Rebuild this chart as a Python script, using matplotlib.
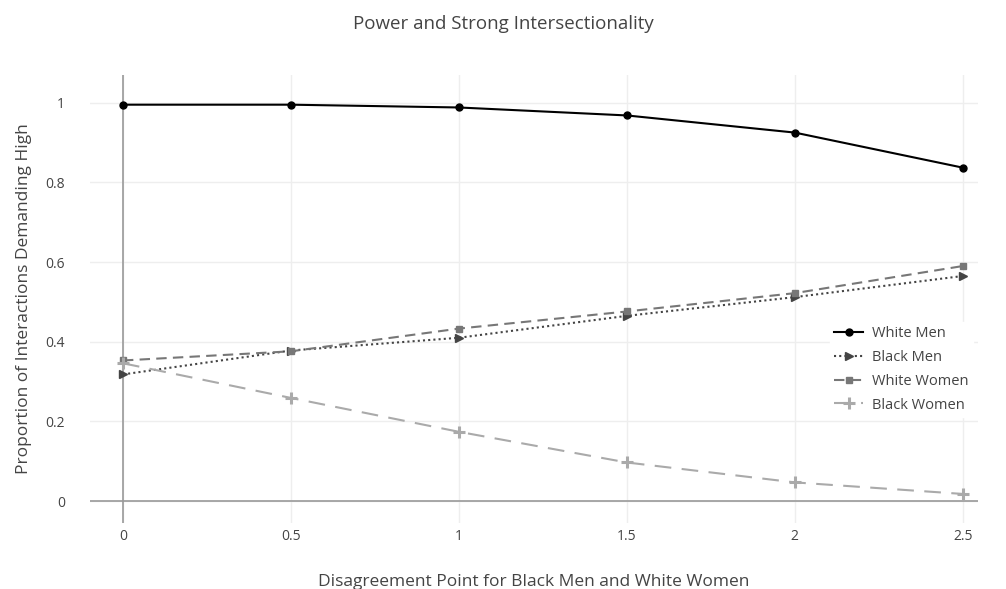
import matplotlib.pyplot as plt
import matplotlib as mpl

mpl.rcParams["font.family"] = ["Open Sans", "DejaVu Sans"]

# data
x_vals = [0, 0.5, 1, 1.5, 2, 2.5]
white_men = [0.995, 0.995, 0.988, 0.968, 0.925, 0.837]
black_men = [0.318, 0.378, 0.410, 0.465, 0.512, 0.565]
white_women = [0.353, 0.376, 0.433, 0.476, 0.522, 0.590]
black_women = [0.346, 0.259, 0.174, 0.097, 0.047, 0.018]

x_ticks = [0, 0.5, 1, 1.5, 2, 2.5]
x_ticklabels = ["0", "0.5", "1", "1.5", "2", "2.5"]
y_ticks = [0, 0.2, 0.4, 0.6, 0.8, 1]
y_ticklabels = ["0", "0.2", "0.4", "0.6", "0.8", "1"]

fig = plt.figure(figsize=(10.06, 5.89), dpi=100)
ax = fig.add_axes([0.0895, 0.112, 0.8825, 0.761])

ax.plot(x_vals, white_men, color="black", lw=1.5, marker="o", ms=5, label="White Men")
ax.plot(x_vals, black_men, color="#444444", lw=1.5, ls=(0, (1, 1.5)), marker=">", ms=6, label="Black Men")
ax.plot(x_vals, white_women, color="#777777", lw=1.5, ls=(0, (5, 3)), marker="s", ms=5, label="White Women")
ax.plot(x_vals, black_women, color="#aaaaaa", lw=1.5, ls=(0, (8, 5)), marker="+", ms=9, mew=2.2, label="Black Women")

ax.set_xlim(-0.098, 2.545)
ax.set_ylim(-0.055, 1.07)
ax.set_xticks(x_ticks)
ax.set_xticklabels(x_ticklabels)
ax.set_yticks(y_ticks)
ax.set_yticklabels(y_ticklabels)
ax.tick_params(axis="x", length=0, labelsize=10, labelcolor="#444444", pad=4)
ax.tick_params(axis="y", length=0, labelsize=10, labelcolor="#444444", pad=18)

ax.grid(True, color="#eeeeee", lw=1)
ax.set_axisbelow(True)
for s in ax.spines.values():
    s.set_visible(False)
ax.axvline(0, color="#999999", lw=1.2, zorder=1)
ax.axhline(0, color="#999999", lw=1.2, zorder=1)

ax.set_xlabel("Disagreement Point for Black Men and White Women", fontsize=12.5, color="#444444", labelpad=22)
ax.set_ylabel("Proportion of Interactions Demanding High", fontsize=12.5, color="#444444", labelpad=10)
fig.suptitle("Power and Strong Intersectionality", fontsize=13.5, color="#444444", y=0.975)

leg = ax.legend(loc="upper left", bbox_to_anchor=(0.825, 0.465), frameon=True, fontsize=10.5,
                handlelength=2.0, labelspacing=0.6, borderpad=0.3, handletextpad=0.6)
leg.get_frame().set_edgecolor("white")
leg.get_frame().set_facecolor("white")
leg.get_frame().set_alpha(1)
for t in leg.get_texts():
    t.set_color("#444444")

fig.savefig("out.png", dpi=100)
